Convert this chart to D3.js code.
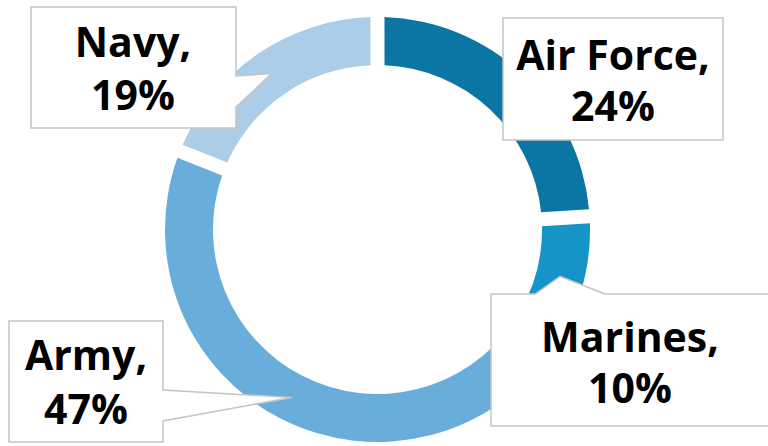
<!DOCTYPE html>
<html>
<head>
<meta charset="utf-8">
<script src="https://cdn.jsdelivr.net/npm/d3@7"></script>
<style>
  html, body { margin: 0; padding: 0; background: #fff; }
  svg { display: block; }
  .lbl { font-family: "Open Sans", sans-serif; font-weight: 700; fill: #000; }
</style>
</head>
<body>
<svg id="chart" width="768" height="446"></svg>
<script>
// Share of personnel by service branch
const categories = ["Air Force", "Marines", "Army", "Navy"];
const shares = [24, 10, 47, 19];
const colors = ["#0b76a3", "#1494c7", "#69aedb", "#abcde8"];

// Callout box layout (x, y, width, height) and which edge carries the pointer
const callouts = [
  { box: [503, 18, 220, 122], tail: null,                      text: [613, 70, 121] },
  { box: [491, 294, 300, 132], tail: { side: "top", a: 535, b: 605 },   text: [630, 352, 403] },
  { box: [9, 321, 154, 121], tail: { side: "right", a: 390, b: 421 },   text: [86, 370, 424] },
  { box: [31, 7, 205, 121], tail: { side: "right", a: 76, b: 107 },     text: [133, 57, 110] }
];

const svg = d3.select("#chart");
const cx = 377.5, cy = 229.5;
const outerR = 212.5, innerR = 164.5;
const gap = 14;

const pie = d3.pie().sort(null).value(d => d)(shares);
const arc = d3.arc()
  .innerRadius(innerR)
  .outerRadius(outerR)
  .padRadius(outerR)
  .padAngle(gap / outerR);
const midArc = d3.arc().innerRadius((innerR + outerR) / 2).outerRadius((innerR + outerR) / 2);

const g = svg.append("g").attr("transform", `translate(${cx},${cy})`);
g.selectAll("path.slice")
  .data(pie)
  .join("path")
  .attr("class", "slice")
  .attr("d", arc)
  .attr("fill", (d, i) => colors[i]);

// Callout shape: rectangle with a wedge reaching the slice's centre point
function calloutPath(c, tip) {
  const [x, y, w, h] = c.box;
  const pts = [];
  pts.push([x, y]);
  if (c.tail && c.tail.side === "top") {
    pts.push([c.tail.a, y], tip, [c.tail.b, y]);
  }
  pts.push([x + w, y]);
  pts.push([x + w, y + h]);
  pts.push([x, y + h]);
  if (c.tail && c.tail.side === "right") {
    // insert on right edge going downward
    pts.splice(2, 0, [x + w, c.tail.a], tip, [x + w, c.tail.b]);
  }
  return "M" + pts.map(p => p.join(",")).join("L") + "Z";
}

pie.forEach((d, i) => {
  const c = callouts[i];
  const m = midArc.centroid(d);
  const tip = [cx + m[0], cy + m[1]];
  svg.append("path")
    .attr("d", calloutPath(c, tip))
    .attr("fill", "#fff")
    .attr("stroke", "#c4c4c4")
    .attr("stroke-width", 1.5)
    .attr("stroke-linejoin", "miter");
  const t = svg.append("text").attr("class", "lbl").attr("text-anchor", "middle")
    .attr("font-size", 41);
  t.append("tspan").attr("x", c.text[0]).attr("y", c.text[1]).text(categories[i] + ",");
  t.append("tspan").attr("x", c.text[0]).attr("y", c.text[2]).text(d.data + "%");
});
</script>
</body>
</html>
